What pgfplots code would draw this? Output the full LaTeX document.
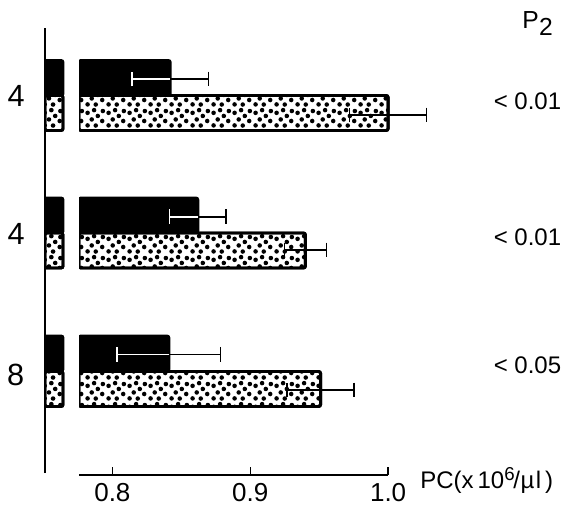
\documentclass[border=0pt]{standalone}
\usepackage{fontspec}
\setmainfont{Liberation Sans}
\usepackage{pgfplots}
\pgfplotsset{compat=1.18}
\usetikzlibrary{patterns.meta}
\pgfdeclarepattern{
  name=rdots, type=uncolored,
  bottom left={\pgfpoint{0bp}{0bp}}, top right={\pgfpoint{16bp}{16bp}},
  tile size={\pgfpoint{16bp}{16bp}},
  code={
    \pgfpathcircle{\pgfpoint{2.0bp}{2.0bp}}{1.75bp}
    \pgfpathcircle{\pgfpoint{8.3bp}{1.9bp}}{1.75bp}
    \pgfpathcircle{\pgfpoint{13.3bp}{5.4bp}}{1.75bp}
    \pgfpathcircle{\pgfpoint{5.2bp}{6.6bp}}{1.75bp}
    \pgfpathcircle{\pgfpoint{9.9bp}{9.3bp}}{1.75bp}
    \pgfpathcircle{\pgfpoint{2.0bp}{11.7bp}}{1.75bp}
    \pgfpathcircle{\pgfpoint{7.0bp}{13.8bp}}{1.75bp}
    \pgfpathcircle{\pgfpoint{13.8bp}{13.1bp}}{1.75bp}
    \pgfusepath{fill}
  }
}
\tikzset{
  blackbar/.style={fill=black, draw=black, line width=2.2bp, rounded corners=1.5bp},
  dotbar/.style={fill=white, draw=black, line width=2.2bp, rounded corners=1.5bp,
     postaction={pattern=rdots, pattern color=black}},
}
\begin{document}
\begin{tikzpicture}
\path[use as bounding box] (0,0) rectangle (429bp,-380.25bp);

% stub (broken) part of the axis
\begin{axis}[
  at={(33.75bp,-354.75bp)}, anchor=south west,
  scale only axis, width=16.2bp, height=333.75bp,
  xmin=0, xmax=1.2, ymin=2, ymax=447,
  axis x line=none, axis y line*=left,
  ytick=\empty,
  y axis line style={line width=1.6bp, black},
  xbar, bar shift=0pt, bar width=35,
  clip=true,
]
\addplot[blackbar] coordinates {(1,397) (1,259.5) (1,121.5)};
\addplot[dotbar] coordinates {(1,362) (1,224.5) (1,86)};
\end{axis}

% main part
\begin{axis}[
  at={(59.25bp,-356.25bp)}, anchor=south west,
  scale only axis, width=273.2bp, height=356.25bp,
  xmin=0.7758, xmax=1.04, ymin=0, ymax=475,
  axis x line*=bottom, axis y line=none,
  x axis line style={draw=none},
  xtick={0.8,0.9,1.0}, xticklabels={0.8,0.9,1.0},
  tick align=inside, major tick length=6bp,
  xtick style={black, line width=1.1bp},
  xticklabel style={font=\fontsize{19.5bp}{22bp}\selectfont, yshift=-2.5bp},
  xbar, bar shift=0pt, bar width=35,
  clip mode=individual,
]
\draw[line width=1.5bp] (axis cs:0.7758,0) -- (axis cs:1.0,0);
\addplot[blackbar] coordinates {(0.842,397) (0.862,259.5) (0.841,121.5)};
\addplot[dotbar] coordinates {(1.0,362) (0.940,224.5) (0.951,86)};
% error bars of dotted bars
\addplot[draw=none, fill=none,
  error bars/.cd, x dir=both, x explicit,
  error bar style={draw=black, line width=1.2bp},
  error mark options={draw=black, line width=1.2bp, mark size=5.6bp, rotate=90}]
  coordinates {(1.0,360) +- (0.0279,0) (0.940,225) +- (0.0152,0) (0.951,85) +- (0.0244,0)};
% error bars of black bars: inside part white
\addplot[draw=none, fill=none,
  error bars/.cd, x dir=minus, x explicit,
  error bar style={draw=white, line width=1.2bp},
  error mark options={draw=white, line width=1.2bp, mark size=5.6bp, rotate=90}]
  coordinates {(0.842,396) +- (0.0276,0) (0.862,258.3) +- (0.0206,0) (0.841,120.7) +- (0.0375,0)};
% outside part black
\addplot[draw=none, fill=none,
  error bars/.cd, x dir=plus, x explicit,
  error bar style={draw=black, line width=1.2bp},
  error mark options={draw=black, line width=1.2bp, mark size=5.6bp, rotate=90}]
  coordinates {(0.842,396) +- (0.0276,0) (0.862,258.3) +- (0.0206,0) (0.841,120.7) +- (0.0375,0)};
\end{axis}

% group labels
\node[font=\fontsize{23bp}{26bp}\selectfont] at (12.2bp,-72bp) {4};
\node[font=\fontsize{23bp}{26bp}\selectfont] at (12.2bp,-175.1bp) {4};
\node[font=\fontsize{23bp}{26bp}\selectfont] at (11.8bp,-280.9bp) {8};
% P values
\node[anchor=base west, inner sep=0pt, font=\fontsize{18.5bp}{21bp}\selectfont] at (391.5bp,-21.5bp) {P\kern0.3bp\raisebox{-5bp}{2}};
\node[font=\fontsize{18bp}{21bp}\selectfont] at (395.6bp,-75.75bp) {< 0.01};
\node[font=\fontsize{18bp}{21bp}\selectfont] at (395.6bp,-177.75bp) {< 0.01};
\node[font=\fontsize{18bp}{21bp}\selectfont] at (395.6bp,-273.75bp) {< 0.05};
% axis label
\node[anchor=base west, inner sep=0pt, font=\fontsize{18bp}{21bp}\selectfont] at (315bp,-366bp) {PC(x\,10\raisebox{5.5bp}{\fontsize{14bp}{16bp}\selectfont 6}\kern-1bp/\kern0.5bp µ\kern1pt l\,)};
\end{tikzpicture}
\end{document}
